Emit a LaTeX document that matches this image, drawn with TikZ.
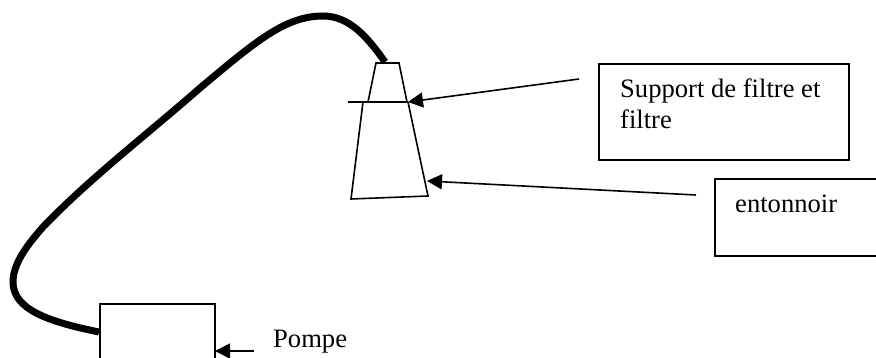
\documentclass[tikz,border=0pt]{standalone}
\usepackage{fontspec}
\setmainfont{Liberation Serif}
\usetikzlibrary{arrows.meta}
\tikzset{
  thin line/.style={line width=1.6pt,draw=black},
  boxed/.style={thin line,rectangle,anchor=north west,inner sep=0pt},
  pointer/.style={thin line,-{Triangle[length=15pt,width=15pt]},shorten >=0pt},
  tube/.style={line width=7pt,draw=black},
  caption/.style={anchor=base west,inner sep=0pt,font=\fontsize{26.6}{31}\selectfont}
}
\begin{document}
\begin{tikzpicture}[x=1pt,y=-1pt]
\useasboundingbox (0,0) rectangle (876,358);
% boxes
\node[boxed,minimum width=250pt,minimum height=96pt] (supportbox) at (598,63) {};
\node[boxed,minimum width=190pt,minimum height=77pt] (entbox) at (714,178) {};
\node[boxed,minimum width=115pt,minimum height=80pt] (pump) at (99,303) {};
% labels
\node[caption] (l1) at (620,98) {Support de filtre et};
\node[caption] (l2) at (620,129) {filtre};
\node[caption] (l3) at (735,213) {entonnoir};
\node[caption] (l4) at (273,347) {Pompe};
% filter holder and funnel
\coordinate (uTL) at (376,63);
\coordinate (uTR) at (399,63);
\coordinate (uBL) at (368,102);
\coordinate (uBR) at (407,102);
\coordinate (fL) at (348,102);
\coordinate (fR) at (408,102);
\coordinate (lTL) at (363,102);
\coordinate (lBL) at (351,199);
\coordinate (lBR) at (428,196);
\draw[thin line] (uBL) -- (uTL) -- (uTR) -- (uBR);
\draw[thin line] (fL) -- (fR);
\draw[thin line] (lTL) -- (lBL) -- (lBR) -- (fR);
% arrows
\coordinate (a1s) at (579,79);
\coordinate (a2s) at (696,195);
\coordinate (a2e) at (427,181);
\coordinate (a3s) at (254,351);
\coordinate (a3e) at (215,351);
\draw[pointer] (a1s) -- (fR);
\draw[pointer] (a2s) -- (a2e);
\draw[pointer] (a3s) -- (a3e);
% tube
\coordinate (t0) at (99,332);
\coordinate (t1) at (13,282);
\coordinate (t2) at (43,227);
\coordinate (t3) at (200,88);
\coordinate (t4) at (323,16);
\coordinate (t5) at (385,62);
\draw[tube] (t0) .. controls (50,322) and (13,310) .. (t1)
  .. controls (13,262) and (30,242) .. (t2)
  .. controls (90,178) and (150,132) .. (t3)
  .. controls (255,42) and (285,16) .. (t4)
  .. controls (350,16) and (368,38) .. (t5);
\end{tikzpicture}
\end{document}
